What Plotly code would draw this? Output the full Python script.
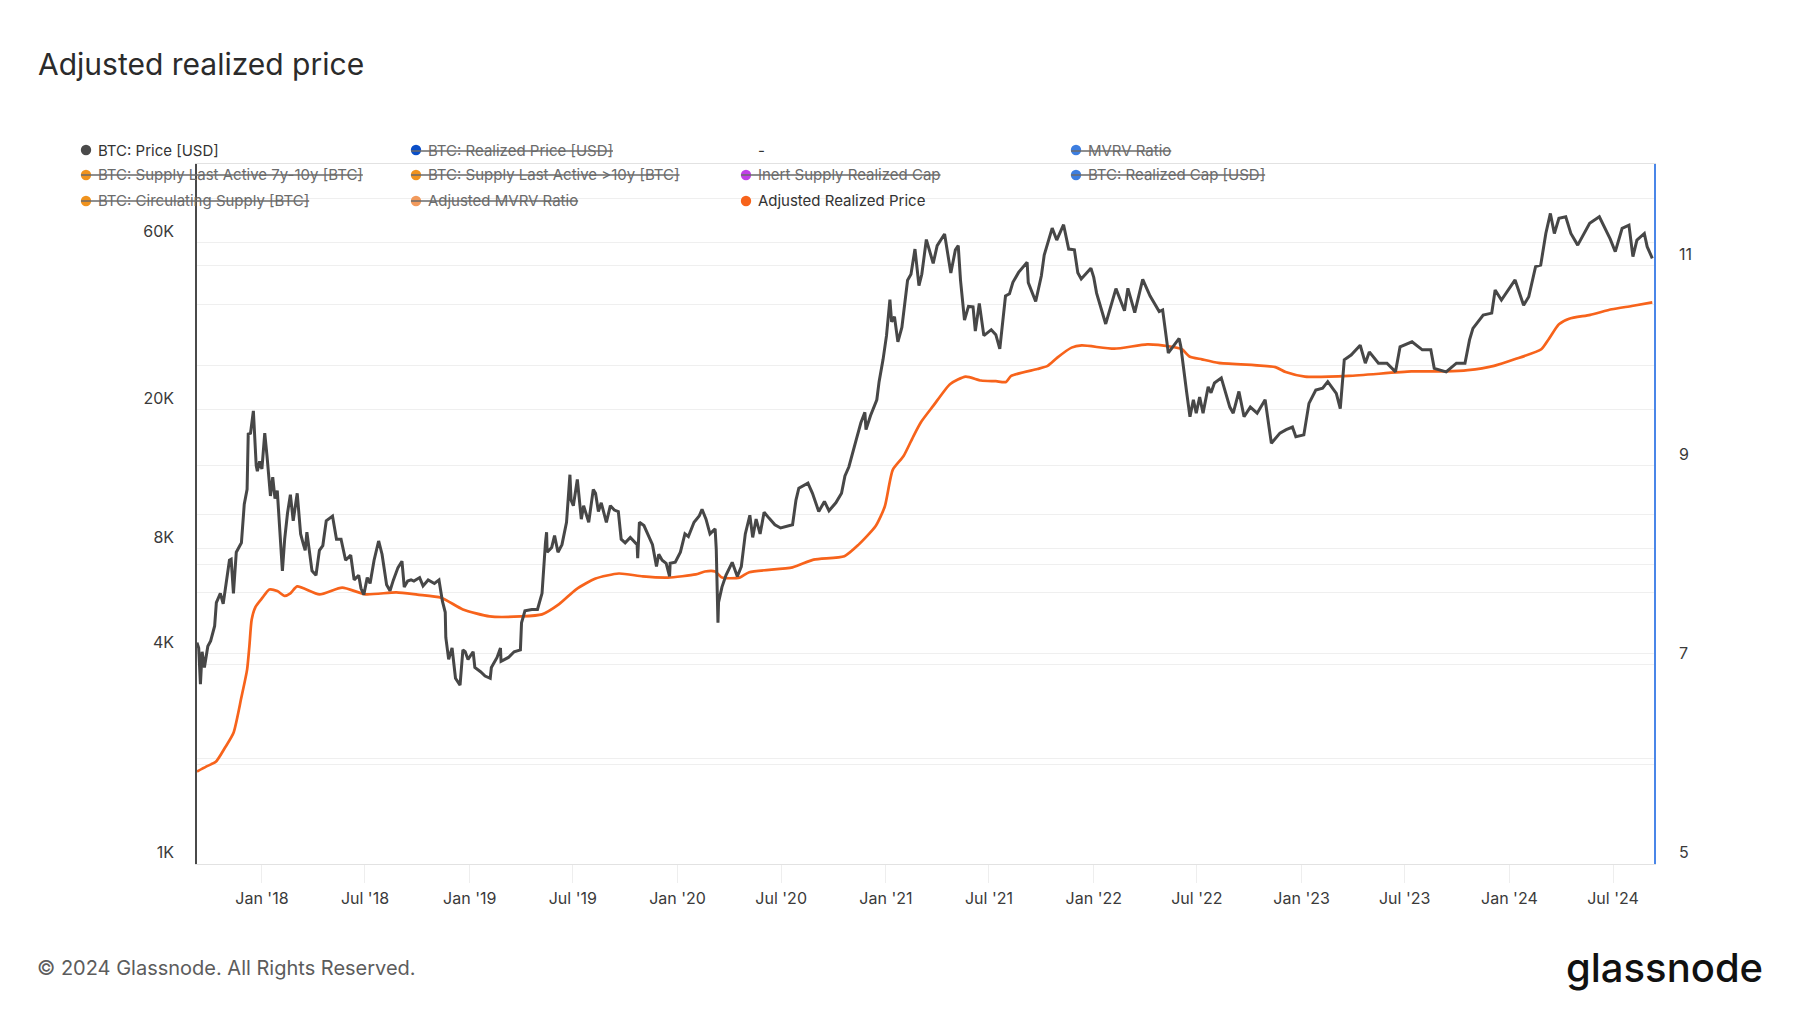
import plotly.graph_objects as go

# ---------------- data ----------------
price_dates = [
    "2017-09-09", "2017-09-12", "2017-09-15", "2017-09-18", "2017-09-22", "2017-09-28",
    "2017-10-03", "2017-10-10", "2017-10-13", "2017-10-20", "2017-10-25",
    "2017-11-01", "2017-11-05", "2017-11-08", "2017-11-12", "2017-11-17", "2017-11-26",
    "2017-12-01", "2017-12-06", "2017-12-08", "2017-12-12", "2017-12-17", "2017-12-22", "2017-12-24", "2017-12-28",
    "2018-01-01", "2018-01-06", "2018-01-10", "2018-01-16", "2018-01-20", "2018-01-24", "2018-01-28",
    "2018-02-01", "2018-02-06", "2018-02-10", "2018-02-15", "2018-02-20", "2018-02-25",
    "2018-03-04", "2018-03-10", "2018-03-15", "2018-03-18", "2018-03-21", "2018-03-30",
    "2018-04-06", "2018-04-12", "2018-04-18", "2018-04-24",
    "2018-05-05", "2018-05-12", "2018-05-20", "2018-05-28",
    "2018-06-06", "2018-06-12", "2018-06-20", "2018-06-24", "2018-06-29",
    "2018-07-05", "2018-07-10", "2018-07-17", "2018-07-25", "2018-07-31",
    "2018-08-08", "2018-08-14", "2018-08-20", "2018-08-28",
    "2018-09-04", "2018-09-08", "2018-09-14", "2018-09-20", "2018-09-25",
    "2018-10-05", "2018-10-11", "2018-10-20", "2018-10-31",
    "2018-11-08", "2018-11-14", "2018-11-19", "2018-11-20", "2018-11-25",
    "2018-12-01", "2018-12-07", "2018-12-15", "2018-12-20", "2018-12-24", "2018-12-29",
    "2019-01-07", "2019-01-10", "2019-01-20", "2019-01-28",
    "2019-02-06", "2019-02-08", "2019-02-18", "2019-02-24", "2019-02-25",
    "2019-03-10", "2019-03-20", "2019-03-31",
    "2019-04-02", "2019-04-08", "2019-04-20", "2019-04-30",
    "2019-05-08", "2019-05-11", "2019-05-14", "2019-05-16", "2019-05-17", "2019-05-25", "2019-05-30",
    "2019-06-05", "2019-06-12", "2019-06-20", "2019-06-26", "2019-06-28",
    "2019-07-02", "2019-07-09", "2019-07-16", "2019-07-20", "2019-07-29",
    "2019-08-06", "2019-08-10", "2019-08-15", "2019-08-20", "2019-08-29",
    "2019-09-05", "2019-09-12", "2019-09-19", "2019-09-24",
    "2019-10-01", "2019-10-10", "2019-10-22", "2019-10-23", "2019-10-26",
    "2019-11-03", "2019-11-10", "2019-11-18", "2019-11-25", "2019-11-29",
    "2019-12-05", "2019-12-12", "2019-12-18", "2019-12-19", "2019-12-28",
    "2020-01-06", "2020-01-14", "2020-01-20", "2020-01-30",
    "2020-02-08", "2020-02-13", "2020-02-20", "2020-02-27",
    "2020-03-07", "2020-03-09", "2020-03-12", "2020-03-13", "2020-03-19", "2020-03-26",
    "2020-04-06", "2020-04-15", "2020-04-22", "2020-04-29",
    "2020-05-07", "2020-05-12", "2020-05-18", "2020-05-25",
    "2020-06-01", "2020-06-10", "2020-06-20", "2020-06-30",
    "2020-07-10", "2020-07-21", "2020-07-27",
    "2020-08-01", "2020-08-17", "2020-08-25",
    "2020-09-05", "2020-09-15", "2020-09-23",
    "2020-10-05", "2020-10-15", "2020-10-21", "2020-10-28",
    "2020-11-05", "2020-11-10", "2020-11-18", "2020-11-25", "2020-11-27",
    "2020-12-05", "2020-12-16", "2020-12-20", "2020-12-27",
    "2021-01-02", "2021-01-08", "2021-01-11", "2021-01-16", "2021-01-22", "2021-01-29",
    "2021-02-08", "2021-02-14", "2021-02-21", "2021-02-28",
    "2021-03-05", "2021-03-13", "2021-03-25",
    "2021-04-01", "2021-04-14", "2021-04-25",
    "2021-05-03", "2021-05-08", "2021-05-12", "2021-05-19", "2021-05-26",
    "2021-06-03", "2021-06-07", "2021-06-14", "2021-06-22",
    "2021-07-05", "2021-07-13", "2021-07-20", "2021-07-30",
    "2021-08-06", "2021-08-12", "2021-08-22",
    "2021-09-06", "2021-09-08", "2021-09-21",
    "2021-10-01", "2021-10-06", "2021-10-20", "2021-10-28",
    "2021-11-09", "2021-11-18", "2021-11-28",
    "2021-12-04", "2021-12-10", "2021-12-27",
    "2022-01-01", "2022-01-06", "2022-01-22",
    "2022-02-09", "2022-02-24",
    "2022-03-02", "2022-03-14", "2022-03-28",
    "2022-04-10", "2022-04-26",
    "2022-05-02", "2022-05-12", "2022-05-31",
    "2022-06-03", "2022-06-13", "2022-06-19", "2022-06-25", "2022-06-30",
    "2022-07-06", "2022-07-12", "2022-07-21", "2022-07-26",
    "2022-08-01", "2022-08-13", "2022-08-28",
    "2022-09-03", "2022-09-13", "2022-09-22",
    "2022-10-03", "2022-10-15", "2022-10-29",
    "2022-11-09", "2022-11-24",
    "2022-12-05", "2022-12-16", "2022-12-22",
    "2023-01-05", "2023-01-14", "2023-01-26",
    "2023-02-07", "2023-02-16",
    "2023-03-03", "2023-03-10", "2023-03-17", "2023-03-29",
    "2023-04-14", "2023-04-23", "2023-04-30",
    "2023-05-16", "2023-05-31",
    "2023-06-15", "2023-06-23",
    "2023-07-14",
    "2023-08-01", "2023-08-16", "2023-08-22",
    "2023-09-12", "2023-09-30",
    "2023-10-15", "2023-10-23", "2023-10-29",
    "2023-11-16",
    "2023-12-01", "2023-12-07", "2023-12-18", "2023-12-30",
    "2024-01-11", "2024-01-26",
    "2024-02-04", "2024-02-16", "2024-02-25",
    "2024-03-05", "2024-03-13", "2024-03-20", "2024-03-28",
    "2024-04-09", "2024-04-18", "2024-04-30",
    "2024-05-21",
    "2024-06-07", "2024-06-26",
    "2024-07-05", "2024-07-17", "2024-07-29",
    "2024-08-05", "2024-08-12", "2024-08-25", "2024-08-30",
    "2024-09-08",
]
price_usd = [
    4300, 4150, 3270, 4050, 3650, 4200,
    4350, 4800, 5600, 5950, 5550,
    6700, 7400, 7450, 5950, 7800, 8300,
    10700, 11800, 17000, 17100, 19800, 13800, 13300, 14200,
    13500, 17100, 14700, 11300, 12800, 11100, 11700,
    9100, 6900, 8500, 10100, 11400, 9600,
    11500, 8800, 8200, 7900, 8900, 6900,
    6700, 7900, 8150, 9600,
    9900, 8500, 8500, 7400,
    7650, 6500, 6700, 6150, 5900,
    6600, 6350, 7400, 8400, 7700,
    6300, 6050, 6500, 7050,
    7350, 6200, 6450, 6500, 6450,
    6600, 6250, 6500, 6350,
    6500, 5650, 5250, 4450, 3850,
    4150, 3400, 3250, 4100, 4050, 3850,
    4050, 3650, 3550, 3450,
    3400, 3650, 3900, 4150, 3800,
    3900, 4050, 4100,
    4900, 5300, 5350, 5350,
    5950, 7150, 8300, 8900, 7800, 8050, 8700,
    7800, 8200, 9500, 13000, 11000,
    10600, 12600, 9700, 10600, 9500,
    11800, 11500, 10200, 10800, 9500,
    10600, 10300, 10200, 8500,
    8300, 8600, 8200, 7500, 9500,
    9300, 8800, 8200, 7100, 7700,
    7400, 7250, 6650, 7250, 7300,
    7800, 8800, 8650, 9500,
    9900, 10350, 9700, 8800,
    9100, 7950, 4900, 5600, 6200, 6700,
    7300, 6650, 7100, 8800,
    9950, 8600, 9700, 8800,
    10150, 9750, 9350, 9150,
    9250, 9350, 11000,
    11900, 12300, 11500,
    10200, 10900, 10250,
    10800, 11500, 12900, 13700,
    15500, 16400, 18300, 19600, 17500,
    19200, 21300, 24000, 27800,
    32500, 41200, 35600, 36800, 31200, 34300,
    46800, 48700, 57500, 45200,
    48700, 61200, 52300,
    58800, 63500, 49100,
    57200, 58800, 46800, 36000, 39400,
    39300, 33500, 40200, 32500,
    33800, 32700, 29800, 42200,
    42800, 46200, 49300,
    52700, 46100, 40700,
    48200, 55300, 66000, 61000,
    67500, 57500, 57200,
    49200, 47200, 50700,
    47700, 43000, 35100,
    44300, 38300,
    44400, 37800, 47100,
    42200, 38100,
    38500, 29000, 31900,
    30200, 22500, 19050, 21300, 19500,
    21700, 19500, 23200, 22300,
    23800, 24600, 20300,
    19500, 22500, 19050,
    20300, 19500, 21300,
    16000, 17100,
    17500, 17800, 16700,
    16900, 20800, 22700,
    23000, 24000,
    22200, 20100, 27700, 28600,
    30500, 27100, 29200,
    27100, 27100,
    25600, 30200,
    31200,
    29600, 29600, 26200,
    25600, 27100,
    27100, 31600, 34100,
    37200,
    37700, 43900, 41100, 43900,
    46900, 39700,
    42000, 51200, 51700,
    63700, 72700, 63700, 70400,
    71100, 63700, 59000,
    68100,
    71100, 61500,
    56500, 65900, 67300,
    54700, 61000, 63700, 58400,
    54100,
]

arp_dates = [
    "2017-09-09", "2017-09-25", "2017-10-12", "2017-10-28", "2017-11-12", "2017-11-26",
    "2017-12-06", "2017-12-10", "2017-12-14", "2017-12-21",
    "2018-01-02", "2018-01-14", "2018-01-28", "2018-02-10", "2018-02-20", "2018-03-04",
    "2018-04-12", "2018-05-22", "2018-07-02", "2018-08-25", "2018-10-01", "2018-11-12",
    "2018-12-20", "2019-02-05", "2019-04-01", "2019-05-08", "2019-06-07", "2019-07-07",
    "2019-08-10", "2019-09-20", "2019-11-01", "2019-12-15",
    "2020-02-02", "2020-02-18", "2020-03-07", "2020-03-19", "2020-04-19", "2020-05-06",
    "2020-07-21", "2020-08-27", "2020-10-20", "2020-11-14", "2020-12-14", "2020-12-30",
    "2021-01-13", "2021-02-01", "2021-02-18", "2021-03-04", "2021-03-25", "2021-04-24",
    "2021-05-21", "2021-06-17", "2021-07-13", "2021-07-31", "2021-08-09", "2021-09-24",
    "2021-10-12", "2021-10-29", "2021-11-23", "2021-12-11",
    "2022-02-06", "2022-04-05", "2022-05-15", "2022-06-05", "2022-06-18", "2022-07-10",
    "2022-08-08", "2022-11-16", "2022-12-04",
    "2023-01-07", "2023-03-25", "2023-07-13", "2023-09-11", "2023-10-20", "2023-12-05",
    "2024-01-10", "2024-02-26", "2024-03-10", "2024-03-28", "2024-04-15", "2024-05-22",
    "2024-06-29", "2024-08-03", "2024-09-08",
]
arp_usd = [
    1840, 1900, 1960, 2150, 2370, 3000,
    3600, 4200, 5000, 5450,
    5780, 6100, 6040, 5850, 5950, 6230,
    5910, 6180, 5910, 5990, 5900, 5780,
    5350, 5110, 5110, 5180, 5540, 6110,
    6560, 6780, 6650, 6600,
    6740, 6870, 6870, 6600, 6600, 6840,
    7060, 7430, 7600, 8200, 9270, 10540,
    13420, 14700, 16720, 18420, 20450, 23640,
    24810, 24180, 24070, 23960, 24920, 26090,
    26630, 28120, 30030, 30460,
    29820, 30670, 30250, 29700, 28330, 27800,
    27160, 26410, 25560,
    24810, 24920, 25670, 25670, 25880, 26630,
    27800, 29710, 31740, 35040, 36320, 37280,
    38660, 39510, 40470,
]

x_tick_dates = ["2018-01-01", "2018-07-01", "2019-01-01", "2019-07-01", "2020-01-01",
                "2020-07-01", "2021-01-01", "2021-07-01", "2022-01-01", "2022-07-01",
                "2023-01-01", "2023-07-01", "2024-01-01", "2024-07-01"]
x_tick_labels = ["Jan '18", "Jul '18", "Jan '19", "Jul '19", "Jan '20", "Jul '20",
                 "Jan '21", "Jul '21", "Jan '22", "Jul '22", "Jan '23", "Jul '23",
                 "Jan '24", "Jul '24"]

y_tick_vals = [1000, 2000, 4000, 6000, 8000, 10000, 20000, 40000, 60000, 80000]
y_tick_labels = ["1K", "", "4K", "", "8K", "", "20K", "", "60K", ""]

y2_tick_vals = [5, 6, 7, 8, 9, 10, 11]
y2_tick_labels = ["5", "", "7", "", "9", "", "11"]

legend_labels = ["BTC: Price [USD]", "BTC: Realized Price [USD]", "-", "MVRV Ratio",
                 "BTC: Supply Last Active 7y-10y [BTC]", "BTC: Supply Last Active &gt;10y [BTC]",
                 "Inert Supply Realized Cap", "BTC: Realized Cap [USD]",
                 "BTC: Circulating Supply [BTC]", "Adjusted MVRV Ratio", "Adjusted Realized Price"]
legend_colors = ["#4a4a4a", "#0b4fc8", None, "#3d7ee0",
                 "#f0931e", "#f0931e", "#c040e8", "#3d7ee0",
                 "#f0931e", "#f29a5c", "#f7631b"]
legend_hidden = [False, True, False, True, True, True, True, True, True, True, False]

assert len(price_dates) == len(price_usd)
assert len(arp_dates) == len(arp_usd)

# ---------------- geometry (page pixels) ----------------
OFF = 8                      # default body margin of the html page
W, H = 1800 - 2 * OFF, 1013 - 2 * OFF
PL, PR, PT, PB = 197, 1654, 164, 864   # plot area in page pixels


def px(x):
    return (x - PL) / (PR - PL)


def py(y):
    return (PB - y) / (PB - PT)


FONT = "Inter, Roboto, 'Noto Sans', sans-serif"

fig = go.Figure()
fig.add_trace(go.Scatter(x=arp_dates, y=arp_usd, mode="lines",
                         line=dict(color="#f7631b", width=2.7, shape="spline", smoothing=0.6),
                         hoverinfo="skip", showlegend=False))
fig.add_trace(go.Scatter(x=price_dates, y=price_usd, mode="lines",
                         line=dict(color="#474747", width=3),
                         hoverinfo="skip", showlegend=False))
fig.add_trace(go.Scatter(x=[price_dates[0]], y=[5], yaxis="y2", mode="markers",
                         marker=dict(opacity=0), hoverinfo="skip", showlegend=False))

# legend built from annotations + dot shapes
col_x = [86, 416, 746, 1076]
row_y = [150, 175, 201]
annotations = []
shapes = []
for i, (lab, col, hid) in enumerate(zip(legend_labels, legend_colors, legend_hidden)):
    r, c = divmod(i, 4)
    dx, dy = col_x[c], row_y[r]
    body = "\u00a0\u00a0\u00a0\u00a0" + lab
    if hid:
        body = "<s>" + body + "</s>"
    annotations.append(dict(
        x=px(dx - 7), y=py(dy), xref="paper", yref="paper", xanchor="left", yanchor="middle",
        text=body, showarrow=False,
        font=dict(family=FONT, size=15, color="#6b6b6b" if hid else "#333333")))
    if col is not None:
        shapes.append(dict(type="circle", xref="paper", yref="paper",
                           xsizemode="pixel", ysizemode="pixel",
                           xanchor=px(dx), yanchor=py(dy),
                           x0=-5.2, x1=5.2, y0=-5.2, y1=5.2,
                           fillcolor=col, line=dict(width=0), layer="above"))

annotations.append(dict(x=px(35), y=py(968), xref="paper", yref="paper",
                        xanchor="left", yanchor="middle", showarrow=False,
                        text="© 2024 Glassnode. All Rights Reserved.",
                        font=dict(family=FONT, size=20, color="#5c5c5c")))
annotations.append(dict(x=px(1765), y=py(967), xref="paper", yref="paper",
                        xanchor="right", yanchor="middle", showarrow=False,
                        text="glassnode",
                        font=dict(family=FONT, size=40, color="#111111", weight=500)))

fig.update_layout(
    width=W, height=H,
    margin=dict(l=PL - OFF, r=W - (PR - OFF), t=PT - OFF, b=H - (PB - OFF), pad=0),
    paper_bgcolor="white", plot_bgcolor="white",
    showlegend=False,
    title=dict(text="Adjusted realized price", x=(38 - OFF) / W, xref="container", xanchor="left",
               y=1 - (64 - OFF) / H, yref="container", yanchor="middle",
               font=dict(family=FONT, size=30, color="#2b2b2b")),
    xaxis=dict(type="date", range=["2017-09-09", "2024-09-11"],
               tickvals=x_tick_dates, ticktext=x_tick_labels,
               showgrid=False, zeroline=False,
               showline=True, linecolor="#e2e2e2", linewidth=1.2, mirror=True,
               ticks="outside", ticklen=18, tickcolor="#eeeeee", tickwidth=1,
               ticklabelstandoff=2,
               tickfont=dict(family=FONT, size=16, color="#3a3a3a")),
    yaxis=dict(type="log", range=[3, 5.003],
               tickvals=y_tick_vals, ticktext=y_tick_labels,
               showgrid=True, gridcolor="#efefef", gridwidth=1, zeroline=False,
               showline=True, linecolor="#4a4a4a", linewidth=1.5,
               ticks="", ticklabelposition="outside top", ticklabelstandoff=18,
               tickfont=dict(family=FONT, size=16, color="#3a3a3a")),
    yaxis2=dict(overlaying="y", side="right", range=[5, 12.02],
                tickvals=y2_tick_vals, ticktext=y2_tick_labels,
                showgrid=True, gridcolor="#efefef", gridwidth=1, zeroline=False,
                showline=True, linecolor="#4a86e8", linewidth=1.5,
                ticks="", ticklabelposition="outside top", ticklabelstandoff=20,
                tickfont=dict(family=FONT, size=16, color="#3a3a3a")),
    annotations=annotations,
    shapes=shapes,
)

fig.write_html("out.html")
